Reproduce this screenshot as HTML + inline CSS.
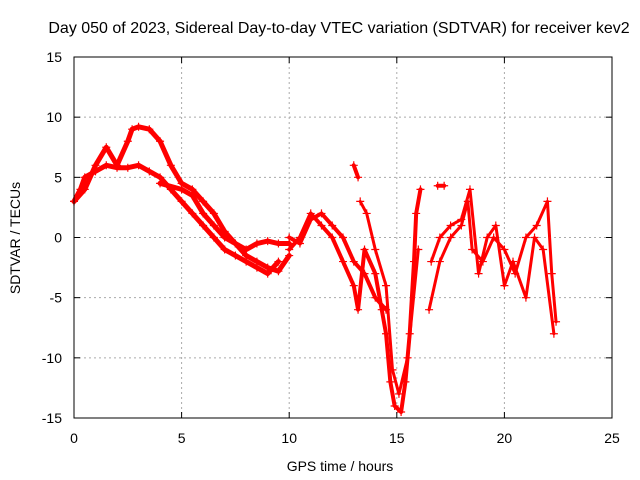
<!DOCTYPE html>
<html><head><meta charset="utf-8"><style>
body{margin:0;background:#fff;}
svg{display:block;font-family:"Liberation Sans",sans-serif;}
</style></head><body>
<svg id="chart" width="640" height="480">
<rect width="640" height="480" fill="#fff"/>
<text x="339" y="33" text-anchor="middle" font-size="16">Day 050 of 2023, Sidereal Day-to-day VTEC variation (SDTVAR) for receiver kev2</text>
<text x="340" y="471" text-anchor="middle" font-size="14">GPS time / hours</text>
<text transform="translate(20,238) rotate(-90)" text-anchor="middle" font-size="14">SDTVAR / TECUs</text>
<g id="grid"></g><g id="ticks"></g><g id="marks"></g>
<rect x="74" y="57" width="538" height="361" fill="none" stroke="#000"/>
</svg>
<script>
const xTicks=[0,5,10,15,20,25];
const yTicks=[15,10,5,0,-5,-10,-15];
const trackA_t=[0,0.3,0.5,1,1.5,2,2.5,3,3.5,4,4.5,5,5.5,6,6.5,7,7.5,8,8.5,9,9.5];
const trackA_v=[3,4,5,5.5,6,5.8,5.8,6,5.5,5,4,3,2,1,0,-1,-1.5,-2,-2.5,-3,-2];
const trackB_t=[0,0.5,1,1.5,2,2.5,2.7,3,3.5,4,4.5,5,5.5,6,6.5,7,7.5,8,8.5,9,9.5,10];
const trackB_v=[3,4,6,7.5,6,8,9,9.2,9,8,6,4.5,4,3,2,0.5,-0.5,-1,-0.5,-0.3,-0.5,-0.5];
const trackC_t=[4,5,5.5,6,6.5,7,7.5,8,8.5,9,9.5,10];
const trackC_v=[4.5,4,3.5,2,1,0,-0.5,-1.5,-2,-2.5,-2.8,-1.5];
const trackD_t=[10,10.5,11,11.5,12,12.5,13,13.2,13.5,14,14.3,14.5,14.7,14.9,15.2,15.4,15.6,15.8,15.9,16.1];
const trackD_v=[-1,0,2,1,0,-2,-4,-6,-1,-3,-6,-8,-12,-14,-14.5,-12,-8,-2,2,4];
const trackE_t=[10,10.5,11,11.5,12,12.5,13,13.5,14,14.5];
const trackE_v=[0,-0.5,1.5,2,1,0,-2,-3,-5,-6];
const trackF_t=[16.5,17,17.5,18,18.3,18.5,19,19.5,20,20.5,21,21.5,22,22.2,22.4];
const trackF_v=[-6,-2,0,1,3,-1,-2,0,-1,-3,0,1,3,-3,-7];
const trackF2_t=[16.6,17,17.5,18,18.4,18.8,19.2,19.6,20,20.4,21,21.4,21.8,22.3];
const trackF2_v=[-2,0,1,1.5,4,-3,0,1,-4,-2,-5,0,-1,-8];
const trackG_t=[16.9,17.2];
const trackG_v=[4.3,4.3];
const trackH_t=[13,13.2];
const trackH_v=[6,5];
const trackI_t=[13.3,13.6,14,14.5,14.8,15.1,15.5,16];
const trackI_v=[3,2,-1,-4,-11,-13,-10,-1];
const xs=t=>74+t*538/25, ys=v=>237.5-v*361/30;
const NS="http://www.w3.org/2000/svg";
function mk(tag,attrs,parent){const e=document.createElementNS(NS,tag);for(const k in attrs)e.setAttribute(k,attrs[k]);document.getElementById(parent).appendChild(e);return e;}
xTicks.forEach(t=>{
 if(t>0&&t<25){const g=mk('line',{x1:xs(t),x2:xs(t),y1:57,y2:418,stroke:'#aaa','stroke-dasharray':'2,3'},'grid');
 
 }
 const l=mk('text',{x:xs(t),y:443,'text-anchor':'middle','font-size':'14'},'ticks');l.textContent=t;
 
 
 mk('line',{x1:xs(t),x2:xs(t),y1:418,y2:412,stroke:'#000'},'ticks');
 mk('line',{x1:xs(t),x2:xs(t),y1:57,y2:63,stroke:'#000'},'ticks');
});
yTicks.forEach(v=>{
 if(v>-15&&v<15){const g=mk('line',{x1:74,x2:612,y1:ys(v),y2:ys(v),stroke:'#aaa','stroke-dasharray':'2,3'},'grid');
 
 }
 const l=mk('text',{x:62,y:ys(v)+5,'text-anchor':'end','font-size':'14'},'ticks');l.textContent=v;
 
 
 mk('line',{x1:74,x2:80,y1:ys(v),y2:ys(v),stroke:'#000'},'ticks');
 mk('line',{x1:612,x2:606,y1:ys(v),y2:ys(v),stroke:'#000'},'ticks');
});
[[trackA_t,trackA_v,5],[trackB_t,trackB_v,5],[trackC_t,trackC_v,5],[trackD_t,trackD_v,4],[trackE_t,trackE_v,4],[trackF_t,trackF_v,3],[trackF2_t,trackF2_v,3],[trackG_t,trackG_v,4],[trackH_t,trackH_v,4],[trackI_t,trackI_v,3]].forEach(([T,V,w])=>{
 const p=mk('polyline',{points:T.map((t,i)=>xs(t)+','+ys(V[i])).join(' '),fill:'none',stroke:'#f00','stroke-width':w,'stroke-linejoin':'round','stroke-linecap':'round'},'marks');
 
 
 T.forEach((t,i)=>{const x=xs(t),y=ys(V[i]);
  const m=mk('path',{d:`M${x-4},${y}h8M${x},${y-4}v8`,stroke:'#f00','stroke-width':1.2},'marks');
  
  
 });
});
</script>
</body></html>
